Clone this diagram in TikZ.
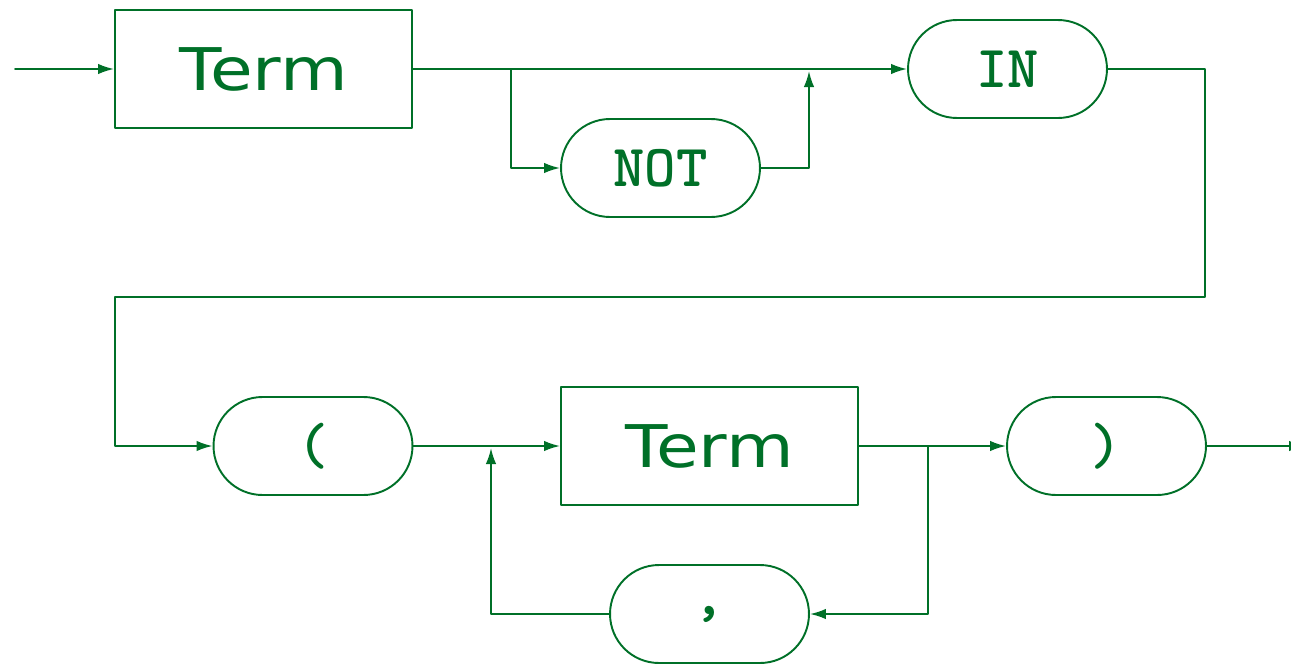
\documentclass[tikz,border=0pt]{standalone}
\usepackage{fontspec}
\newfontfamily\termfont[FakeStretch=1.18]{DejaVu Sans}
\usetikzlibrary{arrows.meta}
\definecolor{syngreen}{RGB}{0,112,40}

\begin{document}
\begin{tikzpicture}[x=0.02cm, y=-0.02cm, line width=1.1pt, line cap=round, line join=round, color=syngreen,
    nonterm/.style={draw, rectangle, minimum width=5.94cm, minimum height=2.36cm, inner sep=0pt,
        font=\fontsize{33.5}{38}\selectfont\termfont},
    term/.style={draw, rectangle, rounded corners=0.98cm, minimum width=3.98cm, minimum height=1.96cm, inner sep=0pt,
        font=\fontsize{34}{38}\selectfont\ttfamily\bfseries},
    flow/.style={-{Latex[length=0.32cm,width=0.21cm]}}]
    \useasboundingbox (0,0) rectangle (1291,663);

    % Row 1
    \coordinate (entry) at (15,69);
    \node[nonterm] (term1) at (263.5,69) {Term};
    \node[term] (kwnot) at (660.5,168) {NOT};
    \node[term] (kwin) at (1007.5,69) {IN};
    \coordinate (split1) at (511,69);
    \coordinate (join1) at (809,71);

    \draw[flow] (entry) -- (term1);
    \draw[flow] (term1) -- (kwin);
    \draw[flow] (split1) |- (kwnot);
    \draw[flow] (kwnot) -| (join1);

    % Row 2
    \node[term] (lpar) at (313,446) {(};
    \node[nonterm] (term2) at (709.5,446) {Term};
    \node[term] (rpar) at (1106.5,446) {)};
    \node[term] (comma) at (709.5,614) {,};
    \coordinate (split2) at (928,446);
    \coordinate (join2) at (491,448);
    \coordinate (exit) at (1305,446);

    % Turn from row 1 to row 2
    \coordinate (turn1) at (1205,69);
    \coordinate (turn2) at (1205,297);
    \coordinate (turn3) at (115,297);
    \draw[flow] (kwin) -- (turn1) -- (turn2) -- (turn3) |- (lpar);

    \draw[flow] (lpar) -- (term2);
    \draw[flow] (term2) -- (rpar);
    \draw[flow] (split2) |- (comma);
    \draw[flow] (comma) -| (join2);
    \draw[flow] (rpar) -- (exit);
\end{tikzpicture}
\end{document}
